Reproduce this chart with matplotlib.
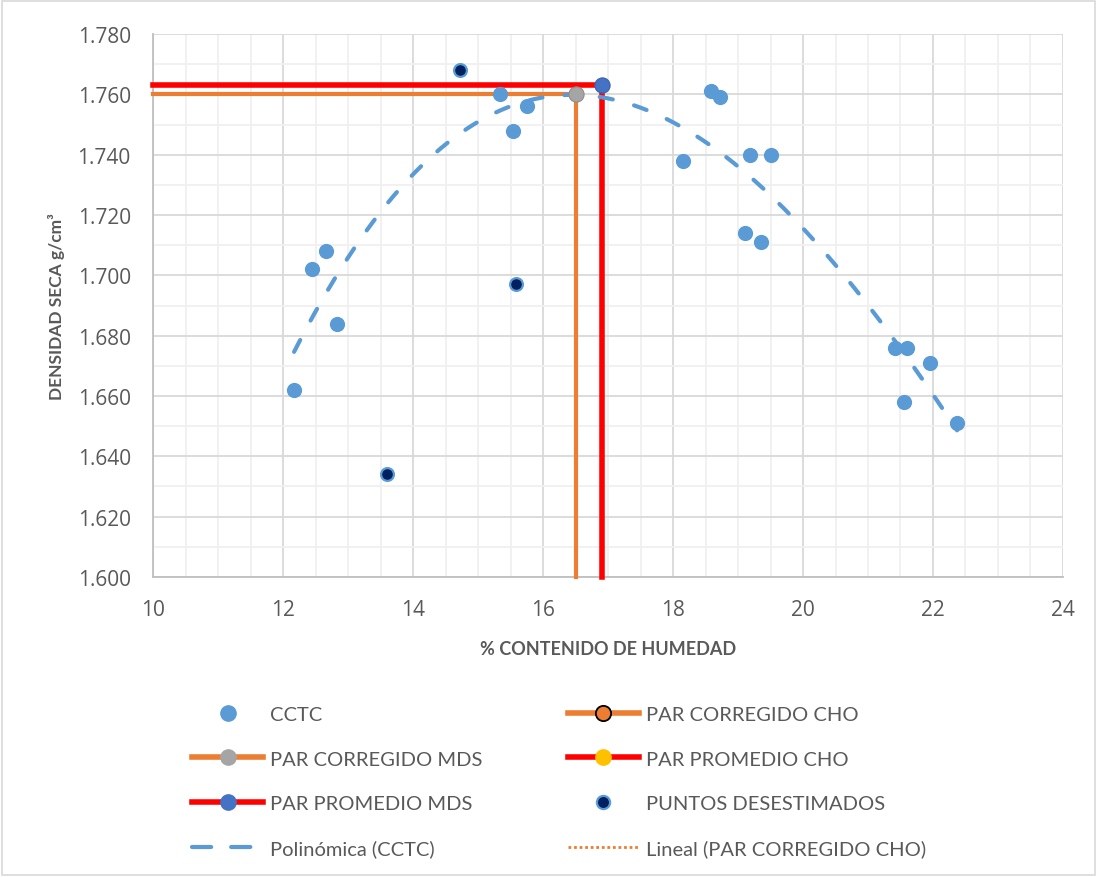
import matplotlib
matplotlib.use("Agg")
import matplotlib.pyplot as plt
import numpy as np
from matplotlib.lines import Line2D
from matplotlib.patches import Rectangle
from matplotlib.ticker import MultipleLocator, FormatStrFormatter

# ---------------------------------------------------------------------------
# Data
# ---------------------------------------------------------------------------
cctc_x = [12.17, 12.45, 12.66, 12.83, 15.34, 15.54, 15.76, 18.16, 18.58, 18.73,
          19.19, 19.50, 19.10, 19.36, 21.41, 21.60, 21.55, 21.95, 22.37]
cctc_y = [1.662, 1.702, 1.708, 1.684, 1.760, 1.748, 1.756, 1.738, 1.761, 1.759,
          1.740, 1.740, 1.714, 1.711, 1.676, 1.676, 1.658, 1.671, 1.651]

desest_x = [14.73, 13.60, 15.58]
desest_y = [1.768, 1.634, 1.697]

corr_mds_x = [10.0, 16.5, 16.5]
corr_mds_y = [1.760, 1.760, 1.600]

prom_mds_x = [10.0, 16.9, 16.9]
prom_mds_y = [1.763, 1.763, 1.600]

POLY_ORDER = 3

# ---------------------------------------------------------------------------
# Colours
# ---------------------------------------------------------------------------
C_CCTC    = "#5B9BD5"
C_ORANGE  = "#ED7D31"
C_RED     = "#FF0000"
C_GRAY    = "#A5A5A5"
C_YELLOW  = "#FFC000"
C_BLUE    = "#4472C4"
C_NAVY    = "#002060"
C_TEXT    = "#595959"
C_GRID    = "#D9D9D9"
C_MINOR   = "#F0F0F0"

FONT = "Lato"
DASH = (3.2, 5.3)

fig = plt.figure(figsize=(10.97, 8.78), dpi=100)
ax = fig.add_axes([0.1395, 0.3417, 0.8295, 0.6184])

# grid
ax.set_xlim(10, 24)
ax.set_ylim(1.600, 1.780)
ax.xaxis.set_major_locator(MultipleLocator(2))
ax.xaxis.set_minor_locator(MultipleLocator(0.5))
ax.yaxis.set_major_locator(MultipleLocator(0.02))
ax.yaxis.set_minor_locator(MultipleLocator(0.01))
ax.yaxis.set_major_formatter(FormatStrFormatter("%.3f"))
ax.grid(which="major", color=C_GRID, linewidth=1.3, zorder=0)
ax.grid(which="minor", color=C_MINOR, linewidth=1.3, zorder=0)
ax.set_axisbelow(True)
ax.tick_params(which="both", length=0, labelsize=15, labelcolor=C_TEXT)
ax.tick_params(axis="y", pad=16)
ax.tick_params(axis="x", pad=16)
for lbl in ax.get_xticklabels() + ax.get_yticklabels():
    lbl.set_fontfamily("Open Sans")
for side in ["top", "right"]:
    ax.spines[side].set_visible(False)
for side in ["left", "bottom"]:
    ax.spines[side].set_color("#BFBFBF")
    ax.spines[side].set_linewidth(1.3)

# reference lines
ax.plot(corr_mds_x, corr_mds_y, color=C_ORANGE, linewidth=3, zorder=4, clip_on=False)
ax.plot(prom_mds_x, prom_mds_y, color=C_RED, linewidth=4, zorder=4, clip_on=False)

# trendline
coef = np.polyfit(cctc_x, cctc_y, POLY_ORDER)
tx = np.linspace(min(cctc_x), max(cctc_x), 200)
ax.plot(tx, np.polyval(coef, tx), color=C_CCTC, linewidth=3,
        dashes=DASH, dash_capstyle="round", zorder=4.5)

# points
ax.scatter(cctc_x, cctc_y, s=120, color=C_CCTC, linewidths=0, zorder=5)
ax.scatter(desest_x, desest_y, s=85, color=C_NAVY, edgecolors=C_CCTC,
           linewidths=1.6, zorder=5)
ax.scatter([corr_mds_x[1]], [corr_mds_y[1]], s=120, color=C_GRAY,
           edgecolors="#8C8C8C", linewidths=0.8, zorder=6)
ax.scatter([prom_mds_x[1]], [prom_mds_y[1]], s=120, color=C_BLUE,
           edgecolors="#3A62A8", linewidths=0.8, zorder=6)

ax.set_xlabel("% CONTENIDO DE HUMEDAD", fontsize=13, fontweight="bold",
              color=C_TEXT, family=FONT, labelpad=14)
ax.set_ylabel("DENSIDAD SECA g/cm³", fontsize=12.5, fontweight="bold",
              color=C_TEXT, family=FONT, labelpad=9)

# ---------------------------------------------------------------------------
# Legend (two single-column legends)
# ---------------------------------------------------------------------------
left_handles = [
    Line2D([], [], linestyle="none", marker="o", markersize=11,
           markerfacecolor=C_CCTC, markeredgecolor=C_CCTC),
    Line2D([], [], color=C_ORANGE, linewidth=4, marker="o", markersize=11,
           markerfacecolor=C_GRAY, markeredgecolor=C_GRAY),
    Line2D([], [], color=C_RED, linewidth=4, marker="o", markersize=11,
           markerfacecolor=C_BLUE, markeredgecolor=C_BLUE),
    Line2D([], [], color=C_CCTC, linewidth=3, dashes=(4.6, 4.8),
           dash_capstyle="round"),
]
left_labels = ["CCTC", "PAR CORREGIDO MDS", "PAR PROMEDIO MDS", "Polinómica (CCTC)"]

right_handles = [
    Line2D([], [], color=C_ORANGE, linewidth=4, marker="o", markersize=11,
           markerfacecolor=C_ORANGE, markeredgecolor="black", markeredgewidth=1.3),
    Line2D([], [], color=C_RED, linewidth=4, marker="o", markersize=11,
           markerfacecolor=C_YELLOW, markeredgecolor=C_YELLOW),
    Line2D([], [], linestyle="none", marker="o", markersize=9.5,
           markerfacecolor=C_NAVY, markeredgecolor=C_CCTC, markeredgewidth=1.6),
    Line2D([], [], color=C_ORANGE, linewidth=2, linestyle=(0, (1, 1))),
]
right_labels = ["PAR CORREGIDO CHO", "PAR PROMEDIO CHO", "PUNTOS DESESTIMADOS",
                "Lineal (PAR CORREGIDO CHO)"]

for handles, labels, x0 in [(left_handles, left_labels, 0.168),
                            (right_handles, right_labels, 0.5105)]:
    fig.legend(handles=handles, labels=labels, loc="upper left",
               bbox_to_anchor=(x0, 0.204), frameon=False, ncol=1,
               prop={"family": FONT, "size": 14.5}, labelcolor=C_TEXT,
               handlelength=3.5, handletextpad=0.35, labelspacing=1.36,
               borderaxespad=0)

# chart area border
fig.patches.append(Rectangle((0.002, 0.002), 0.996, 0.996, transform=fig.transFigure,
                             fill=False, edgecolor=C_GRID, linewidth=1.2))

fig.savefig("out.png", dpi=100, facecolor="white")
